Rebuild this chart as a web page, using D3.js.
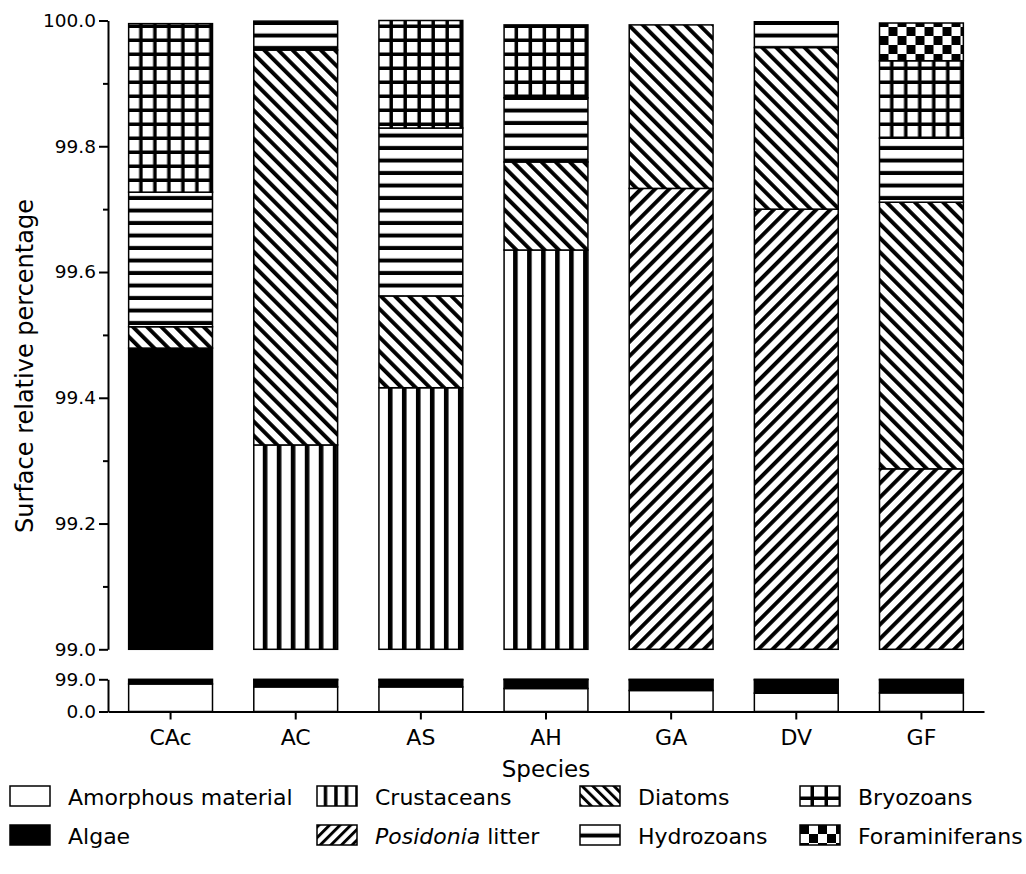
<!DOCTYPE html>
<html>
<head>
<meta charset="utf-8">
<script src="https://cdn.jsdelivr.net/npm/d3@7"></script>
<style>
  html, body { margin: 0; padding: 0; background: #fff; }
  svg { display: block; }
  text { font-family: "DejaVu Sans", sans-serif; fill: #000; }
</style>
</head>
<body>
<svg id="chart" width="1026" height="874"></svg>
<script>
// ---------------- DATA ----------------
const species = ["CAc", "AC", "AS", "AH", "GA", "DV", "GF"];
const categories = ["Amorphous material", "Algae", "Crustaceans", "Posidonia litter",
                    "Diatoms", "Hydrozoans", "Bryozoans", "Foraminiferans"];
const amorphous      = [84.7, 75.6, 75.6, 70.7, 64.6, 56.4, 57.3];
const algae          = [14.779, 21.9, 21.9, 27.8, 32.9, 41.1, 40.2];
const crustaceans    = [0, 1.825, 1.916, 1.135, 0, 0, 0];
const posidonia      = [0, 0, 0, 0, 2.233, 2.2, 1.787];
const diatoms        = [0.034, 0.628, 0.146, 0.14, 0.26, 0.257, 0.424];
const hydrozoans     = [0.214, 0.046, 0.267, 0.102, 0, 0.041, 0.102];
const bryozoans      = [0.268, 0, 0.171, 0.116, 0, 0, 0.123];
const foraminiferans = [0, 0, 0, 0, 0, 0, 0.06];
const topTicks   = [99.0, 99.2, 99.4, 99.6, 99.8, 100.0];
const topMinor   = [99.1, 99.3, 99.5, 99.7, 99.9];
const bottomTicks = [0.0, 99.0];

const seriesArrays = [amorphous, algae, crustaceans, posidonia, diatoms, hydrozoans, bryozoans, foraminiferans];
const patternIds = ["amorph", "algae", "crust", "posid", "diat", "hydro", "bryo", "foram"];
const legendPatternIds = ["amorph", "algae", "crustL", "posidL", "diatL", "hydro", "bryo", "foram"];

const table = species.map((s, i) => {
  const row = { species: s };
  categories.forEach((c, k) => { row[c] = seriesArrays[k][i]; });
  return row;
});

// ---------------- SETUP ----------------
const svg = d3.select("#chart");
const defs = svg.append("defs");

function makePatterns(suffix, s) {
  let p;
  p = defs.append("pattern").attr("id", "amorph" + suffix).attr("patternUnits", "userSpaceOnUse")
    .attr("width", 10).attr("height", 10);
  p.append("rect").attr("width", 10).attr("height", 10).attr("fill", "#fff");
  p = defs.append("pattern").attr("id", "algae" + suffix).attr("patternUnits", "userSpaceOnUse")
    .attr("width", 10).attr("height", 10);
  p.append("rect").attr("width", 10).attr("height", 10).attr("fill", "#000");
  // vertical stripes
  p = defs.append("pattern").attr("id", "crust" + suffix).attr("patternUnits", "userSpaceOnUse")
    .attr("width", 14 * s).attr("height", 14 * s);
  p.append("rect").attr("width", 14 * s).attr("height", 14 * s).attr("fill", "#fff");
  p.append("rect").attr("x", 9 * s).attr("width", 4.6 * s).attr("height", 14 * s).attr("fill", "#000");
  // forward diagonal /
  p = defs.append("pattern").attr("id", "posid" + suffix).attr("patternUnits", "userSpaceOnUse")
    .attr("width", 10 * s).attr("height", 10 * s).attr("patternTransform", "rotate(45)");
  p.append("rect").attr("width", 10 * s).attr("height", 10 * s).attr("fill", "#fff");
  p.append("rect").attr("width", 3.9 * s).attr("height", 10 * s).attr("fill", "#000");
  // back diagonal \
  p = defs.append("pattern").attr("id", "diat" + suffix).attr("patternUnits", "userSpaceOnUse")
    .attr("width", 10 * s).attr("height", 10 * s).attr("patternTransform", "rotate(-45)");
  p.append("rect").attr("width", 10 * s).attr("height", 10 * s).attr("fill", "#fff");
  p.append("rect").attr("width", 3.9 * s).attr("height", 10 * s).attr("fill", "#000");
  // horizontal stripes
  p = defs.append("pattern").attr("id", "hydro" + suffix).attr("patternUnits", "userSpaceOnUse")
    .attr("width", 14 * s).attr("height", 12.5 * s);
  p.append("rect").attr("width", 14 * s).attr("height", 12.5 * s).attr("fill", "#fff");
  p.append("rect").attr("y", 8.5 * s).attr("width", 14 * s).attr("height", 4 * s).attr("fill", "#000");
  // grid
  p = defs.append("pattern").attr("id", "bryo" + suffix).attr("patternUnits", "userSpaceOnUse")
    .attr("width", 14 * s).attr("height", 14 * s);
  p.append("rect").attr("width", 14 * s).attr("height", 14 * s).attr("fill", "#fff");
  p.append("rect").attr("x", 10.5 * s).attr("width", 3.6 * s).attr("height", 14 * s).attr("fill", "#000");
  p.append("rect").attr("y", 10.5 * s).attr("width", 14 * s).attr("height", 3.6 * s).attr("fill", "#000");
  // checkerboard
  p = defs.append("pattern").attr("id", "foram" + suffix).attr("patternUnits", "userSpaceOnUse")
    .attr("width", 18 * s).attr("height", 18 * s);
  p.append("rect").attr("width", 18 * s).attr("height", 18 * s).attr("fill", "#fff");
  p.append("rect").attr("width", 9 * s).attr("height", 9 * s).attr("fill", "#000");
  p.append("rect").attr("x", 9 * s).attr("y", 9 * s).attr("width", 9 * s).attr("height", 9 * s).attr("fill", "#000");
}
makePatterns("", 1);
makePatterns("L", 0.75);

// ---------------- SCALES ----------------
const x = d3.scaleBand().domain(species).range([108, 984]).paddingInner(0.33).paddingOuter(0.165);
const yTop = d3.scaleLinear().domain([99, 100]).range([649.3, 20.5]);
const yBot = d3.scaleLinear().domain([0, 99]).range([711.5, 679.3]);

const stacked = d3.stack().keys(categories)(table);

// ---------------- BARS ----------------
function drawSegment(yScale) {
  const [lo, hi] = yScale.domain();
  const segs = [];
  stacked.forEach((layer, k) => {
    layer.forEach((d, i) => {
      const a = Math.max(d[0], lo), b = Math.min(d[1], hi);
      if (b > a) segs.push({ k, i, a, b });
    });
  });
  const groups = svg.append("g").selectAll("g").data(species).join("g")
    .attr("transform", s => `translate(${x(s)},0)`);
  groups.each(function (s, i) {
    d3.select(this).selectAll("rect").data(segs.filter(d => d.i === i)).join("rect")
      .attr("x", 0).attr("width", x.bandwidth())
      .attr("y", d => yScale(d.b)).attr("height", d => yScale(d.a) - yScale(d.b))
      .attr("fill", d => `url(#${patternIds[d.k]})`)
      .attr("stroke", "#000").attr("stroke-width", 1.5);
  });
}
drawSegment(yTop);
drawSegment(yBot);

// ---------------- AXES ----------------
svg.append("g").attr("transform", "translate(108,0)")
  .call(d3.axisLeft(yTop).tickValues(topTicks).tickFormat(d3.format(".1f")).tickSize(9).tickSizeOuter(0).tickPadding(3));
svg.append("g").attr("transform", "translate(108,0)")
  .call(d3.axisLeft(yTop).tickValues(topMinor).tickFormat("").tickSize(5).tickSizeOuter(0))
  .select(".domain").remove();
svg.append("g").attr("transform", "translate(108,0)")
  .call(d3.axisLeft(yBot).tickValues(bottomTicks).tickFormat(d3.format(".1f")).tickSize(9).tickSizeOuter(0).tickPadding(3));
const gX = svg.append("g").attr("transform", "translate(0,711.5)")
  .call(d3.axisBottom(x).tickSize(8).tickSizeOuter(0).tickPadding(10));

svg.selectAll(".domain, .tick line").attr("stroke", "#000").attr("stroke-width", 2);
svg.selectAll(".tick text").attr("font-size", 18.5).attr("font-family", "DejaVu Sans").attr("fill", "#000");
gX.selectAll(".tick text").attr("font-size", 22);

// Axis titles
svg.append("text").attr("transform", "translate(33,366) rotate(-90)")
  .attr("text-anchor", "middle").attr("font-size", 24).text("Surface relative percentage");
svg.append("text").attr("x", x("AH") + x.bandwidth() / 2).attr("y", 777)
  .attr("text-anchor", "middle").attr("font-size", 23).text("Species");

// ---------------- LEGEND ----------------
const legendCols = [10, 317, 580, 800];
const legendRows = [786, 825];
const legend = svg.append("g");
categories.forEach((c, k) => {
  const col = Math.floor(k / 2), row = k % 2;
  const g = legend.append("g").attr("transform", `translate(${legendCols[col]},${legendRows[row]})`);
  g.append("rect").attr("x", 0).attr("y", 0).attr("width", 40).attr("height", 20)
    .attr("fill", `url(#${legendPatternIds[k]})`).attr("stroke", "#000").attr("stroke-width", 1.5);
  const t = g.append("text").attr("x", 58).attr("y", 19).attr("font-size", 22);
  if (c === "Posidonia litter") {
    t.append("tspan").attr("font-style", "italic").text("Posidonia");
    t.append("tspan").text(" litter");
  } else {
    t.text(c);
  }
});
</script>
</body>
</html>
